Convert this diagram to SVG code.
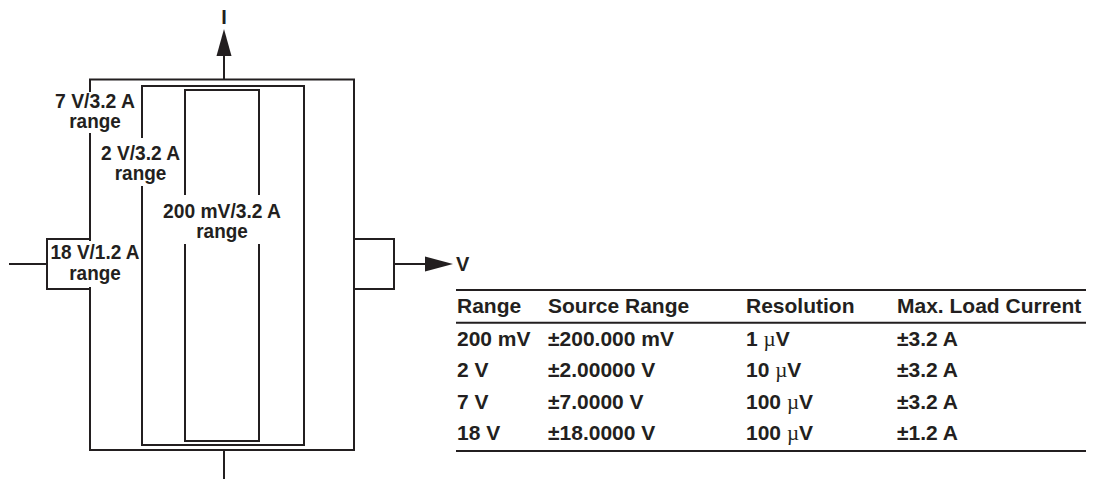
<svg xmlns="http://www.w3.org/2000/svg" width="1098" height="479" viewBox="0 0 1098 479">
  <style>
    .ln { fill: none; stroke: #231f20; stroke-width: 2; }
    .ah { fill: #231f20; stroke: none; }
    .lbl { font-family: "Liberation Sans", Arial, sans-serif; font-weight: bold; font-size: 20px; fill: #231f20; text-anchor: middle; }
    .big { font-family: "Liberation Sans", Arial, sans-serif; font-weight: bold; font-size: 20px; fill: #231f20; }
    .tb { font-family: "Liberation Sans", Arial, sans-serif; font-weight: bold; font-size: 21px; fill: #231f20; }
    .mu { font-family: "Liberation Serif", "Times New Roman", serif; font-weight: normal; }
    .bg { fill: #ffffff; stroke: none; }
  </style>

  <!-- nested operating ranges -->
  <g id="range-7V">
    <rect class="ln" x="90" y="79.5" width="264" height="370.5"/>
  </g>
  <g id="range-2V">
    <rect class="ln" x="142" y="86" width="162" height="359"/>
  </g>
  <g id="range-200mV">
    <rect class="ln" x="185" y="90" width="74" height="351"/>
  </g>
  <g id="range-18V">
    <path class="ln" d="M90,239 H47 V289 H90"/>
  </g>
  <g id="range-18V-right">
    <path class="ln" d="M354,239 H394 V289 H354"/>
  </g>

  <!-- axes -->
  <g id="connectors">
    <path class="ln" d="M224,79.5 V54"/>
    <polygon class="ah" points="224,29 216.5,56 231.5,56"/>
    <path class="ln" d="M224,450 V479"/>
    <path class="ln" d="M9,264 H47"/>
    <path class="ln" d="M394,264 H427"/>
    <polygon class="ah" points="425,256.5 453,264 425,271.5"/>
  </g>

  <g id="axis-I">
    <text class="big" x="224" y="24" text-anchor="middle">I</text>
  </g>
  <g id="axis-V">
    <text class="big" x="456" y="271">V</text>
  </g>

  <!-- range labels on white backing, two lines each -->
  <g id="label-7V">
    <rect class="bg" x="53" y="92" width="83" height="41"/>
    <text class="lbl"><tspan x="95" y="107.5" textLength="80" lengthAdjust="spacingAndGlyphs">7 V/3.2 A</tspan><tspan x="95" y="128" textLength="51.5" lengthAdjust="spacingAndGlyphs">range</tspan></text>
  </g>
  <g id="label-2V">
    <rect class="bg" x="100" y="138" width="82" height="48"/>
    <text class="lbl"><tspan x="140.5" y="160" textLength="79" lengthAdjust="spacingAndGlyphs">2 V/3.2 A</tspan><tspan x="140.5" y="180" textLength="51.5" lengthAdjust="spacingAndGlyphs">range</tspan></text>
  </g>
  <g id="label-200mV">
    <rect class="bg" x="161" y="195" width="122" height="49"/>
    <text class="lbl"><tspan x="222" y="217.5" textLength="118" lengthAdjust="spacingAndGlyphs">200 mV/3.2 A</tspan><tspan x="222" y="238" textLength="51.5" lengthAdjust="spacingAndGlyphs">range</tspan></text>
  </g>
  <g id="label-18V">
    <rect class="bg" x="49" y="241" width="91" height="46"/>
    <text class="lbl"><tspan x="95" y="259" textLength="89" lengthAdjust="spacingAndGlyphs">18 V/1.2 A</tspan><tspan x="95" y="280" textLength="51.5" lengthAdjust="spacingAndGlyphs">range</tspan></text>
  </g>

  <!-- specification table -->
  <g id="table">
    <path class="ln" d="M456,290 H1086 M456,322.7 H1086 M456,451 H1086"/>
    <text class="tb" x="457" y="313.3">Range</text>
    <text class="tb" x="548" y="313.3">Source Range</text>
    <text class="tb" x="746" y="313.3">Resolution</text>
    <text class="tb" x="897" y="313.3">Max. Load Current</text>

    <text class="tb" x="457" y="346">200 mV</text>
    <text class="tb" x="548" y="346">±200.000 mV</text>
    <text class="tb" x="746" y="346">1 <tspan class="mu">µ</tspan>V</text>
    <text class="tb" x="897" y="346">±3.2 A</text>

    <text class="tb" x="457" y="377">2 V</text>
    <text class="tb" x="548" y="377">±2.00000 V</text>
    <text class="tb" x="746" y="377">10 <tspan class="mu">µ</tspan>V</text>
    <text class="tb" x="897" y="377">±3.2 A</text>

    <text class="tb" x="457" y="408.5">7 V</text>
    <text class="tb" x="548" y="408.5">±7.0000 V</text>
    <text class="tb" x="746" y="408.5">100 <tspan class="mu">µ</tspan>V</text>
    <text class="tb" x="897" y="408.5">±3.2 A</text>

    <text class="tb" x="457" y="440">18 V</text>
    <text class="tb" x="548" y="440">±18.0000 V</text>
    <text class="tb" x="746" y="440">100 <tspan class="mu">µ</tspan>V</text>
    <text class="tb" x="897" y="440">±1.2 A</text>
  </g>
</svg>
